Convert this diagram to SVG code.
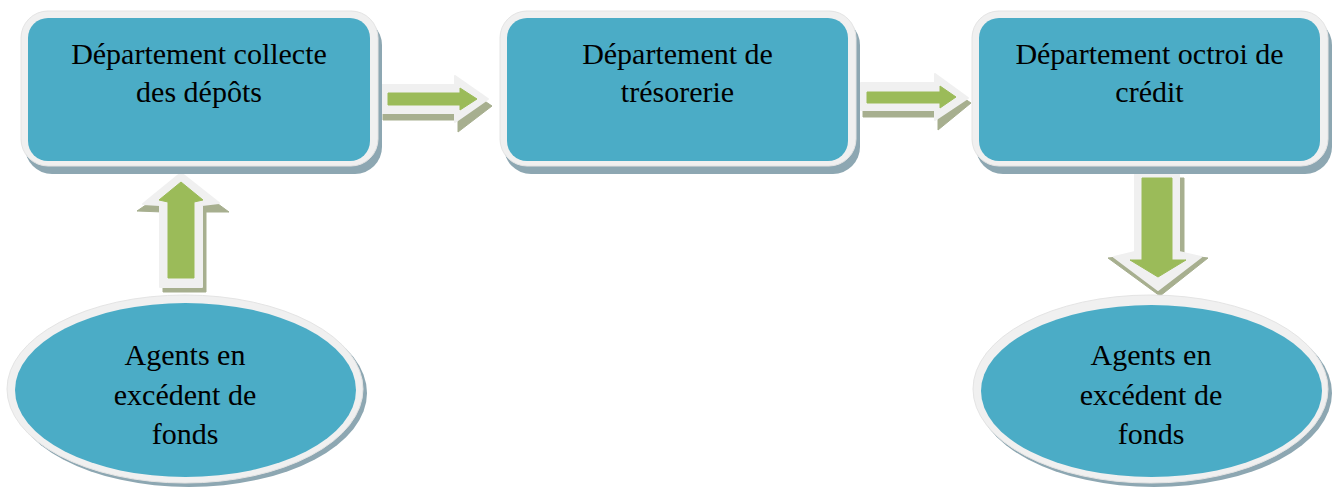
<svg xmlns="http://www.w3.org/2000/svg" width="1338" height="489" viewBox="0 0 1338 489">
  <style>
    .frame { fill: #F0F0F0; stroke: #E4E4E4; stroke-width: 1; }
    .body { fill: #4BACC6; }
    .shadow { fill: #8DA7B2; }
    .label { font-family: "Liberation Serif", "Times New Roman", serif; font-size: 30px; fill: #000; text-anchor: middle; }
    .arrow-shadow { fill: #A7AF8F; stroke: #A7AF8F; stroke-width: 1; stroke-linejoin: round; }
    .arrow-rim { fill: #F0F0F0; stroke: #F0F0F0; stroke-width: 2; stroke-linejoin: round; }
    .arrow-core { fill: #9BBB59; stroke: #9BBB59; stroke-width: 1; stroke-linejoin: round; }
  </style>
  <rect width="1338" height="489" fill="#FFFFFF"/>

  <!-- Connectors: block arrows with white rim and drop shadow -->
  <g id="connectors">
    <!-- collecte -> trésorerie -->
    <g id="arrow-collecte-tresorerie">
      <polygon class="arrow-shadow" points="383,92 458,92 458,83 492,106 458,132 458,120 383,120"/>
      <polygon class="arrow-rim" points="380,85 455,85 455,76 488,99 455,122 455,113 380,113"/>
      <polygon class="arrow-core" points="388,93 460,93 460,88 477,99 460,110 460,105 388,105"/>
    </g>
    <!-- trésorerie -> octroi de crédit -->
    <g id="arrow-tresorerie-credit">
      <polygon class="arrow-shadow" points="863,90 938,90 938,81 971,103 938,130 938,117 863,117"/>
      <polygon class="arrow-rim" points="861,83 935,83 935,74 968,98 935,120 935,110 861,110"/>
      <polygon class="arrow-core" points="867,92 940,92 940,86 956,97 940,108 940,103 867,103"/>
    </g>
    <!-- agents (gauche) -> collecte -->
    <g id="arrow-agents-collecte">
      <polygon class="arrow-shadow" points="184,179 229,212 206,212 206,292 163,292 163,212 137,211"/>
      <polygon class="arrow-rim" points="181,173 219,203 202,205 202,287 160,287 160,205 143,204"/>
      <polygon class="arrow-core" points="181,182 203,200 194,202 194,278 168,278 168,202 159,200"/>
    </g>
    <!-- octroi de crédit -> agents (droite) -->
    <g id="arrow-credit-agents">
      <polygon class="arrow-shadow" points="1139,178 1184,178 1184,255 1208,258 1160,296 1108,258 1139,255"/>
      <polygon class="arrow-rim" points="1135,172 1179,172 1179,252 1201,257 1158,290 1114,257 1135,252"/>
      <polygon class="arrow-core" points="1142,178 1172,178 1172,260 1186,260 1158,277 1130,260 1142,260"/>
    </g>
  </g>

  <!-- Département collecte des dépôts -->
  <g id="node-collecte">
    <rect class="shadow" x="25" y="18" width="357" height="156" rx="27"/>
    <rect class="frame" x="21" y="11" width="357" height="155" rx="27"/>
    <rect class="body" x="28" y="18" width="342" height="143" rx="20"/>
    <text class="label" x="199" y="64">Département collecte</text>
    <text class="label" x="199" y="102">des dépôts</text>
  </g>

  <!-- Département de trésorerie -->
  <g id="node-tresorerie">
    <rect class="shadow" x="504" y="18" width="356" height="156" rx="27"/>
    <rect class="frame" x="500" y="11" width="356" height="155" rx="27"/>
    <rect class="body" x="507" y="18" width="341" height="143" rx="20"/>
    <text class="label" x="677.5" y="64">Département de</text>
    <text class="label" x="677.5" y="102">trésorerie</text>
  </g>

  <!-- Département octroi de crédit -->
  <g id="node-credit">
    <rect class="shadow" x="976" y="18" width="356" height="156" rx="27"/>
    <rect class="frame" x="972" y="11" width="356" height="155" rx="27"/>
    <rect class="body" x="979" y="18" width="341" height="143" rx="20"/>
    <text class="label" x="1149.5" y="64">Département octroi de</text>
    <text class="label" x="1149.5" y="102">crédit</text>
  </g>

  <!-- Agents en excédent de fonds (gauche) -->
  <g id="node-agents-gauche">
    <ellipse class="shadow" cx="189" cy="393" rx="178" ry="94"/>
    <ellipse class="frame" cx="185" cy="389" rx="178" ry="94"/>
    <ellipse class="body" cx="185.5" cy="390" rx="170.5" ry="87"/>
    <text class="label" x="185" y="365">Agents en</text>
    <text class="label" x="185" y="405">excédent de</text>
    <text class="label" x="185" y="444">fonds</text>
  </g>

  <!-- Agents en excédent de fonds (droite) -->
  <g id="node-agents-droite">
    <ellipse class="shadow" cx="1154" cy="393" rx="178" ry="94"/>
    <ellipse class="frame" cx="1150.5" cy="389" rx="177.5" ry="94"/>
    <ellipse class="body" cx="1151.5" cy="391" rx="170.5" ry="86"/>
    <text class="label" x="1151" y="365">Agents en</text>
    <text class="label" x="1151" y="405">excédent de</text>
    <text class="label" x="1151" y="444">fonds</text>
  </g>
</svg>
